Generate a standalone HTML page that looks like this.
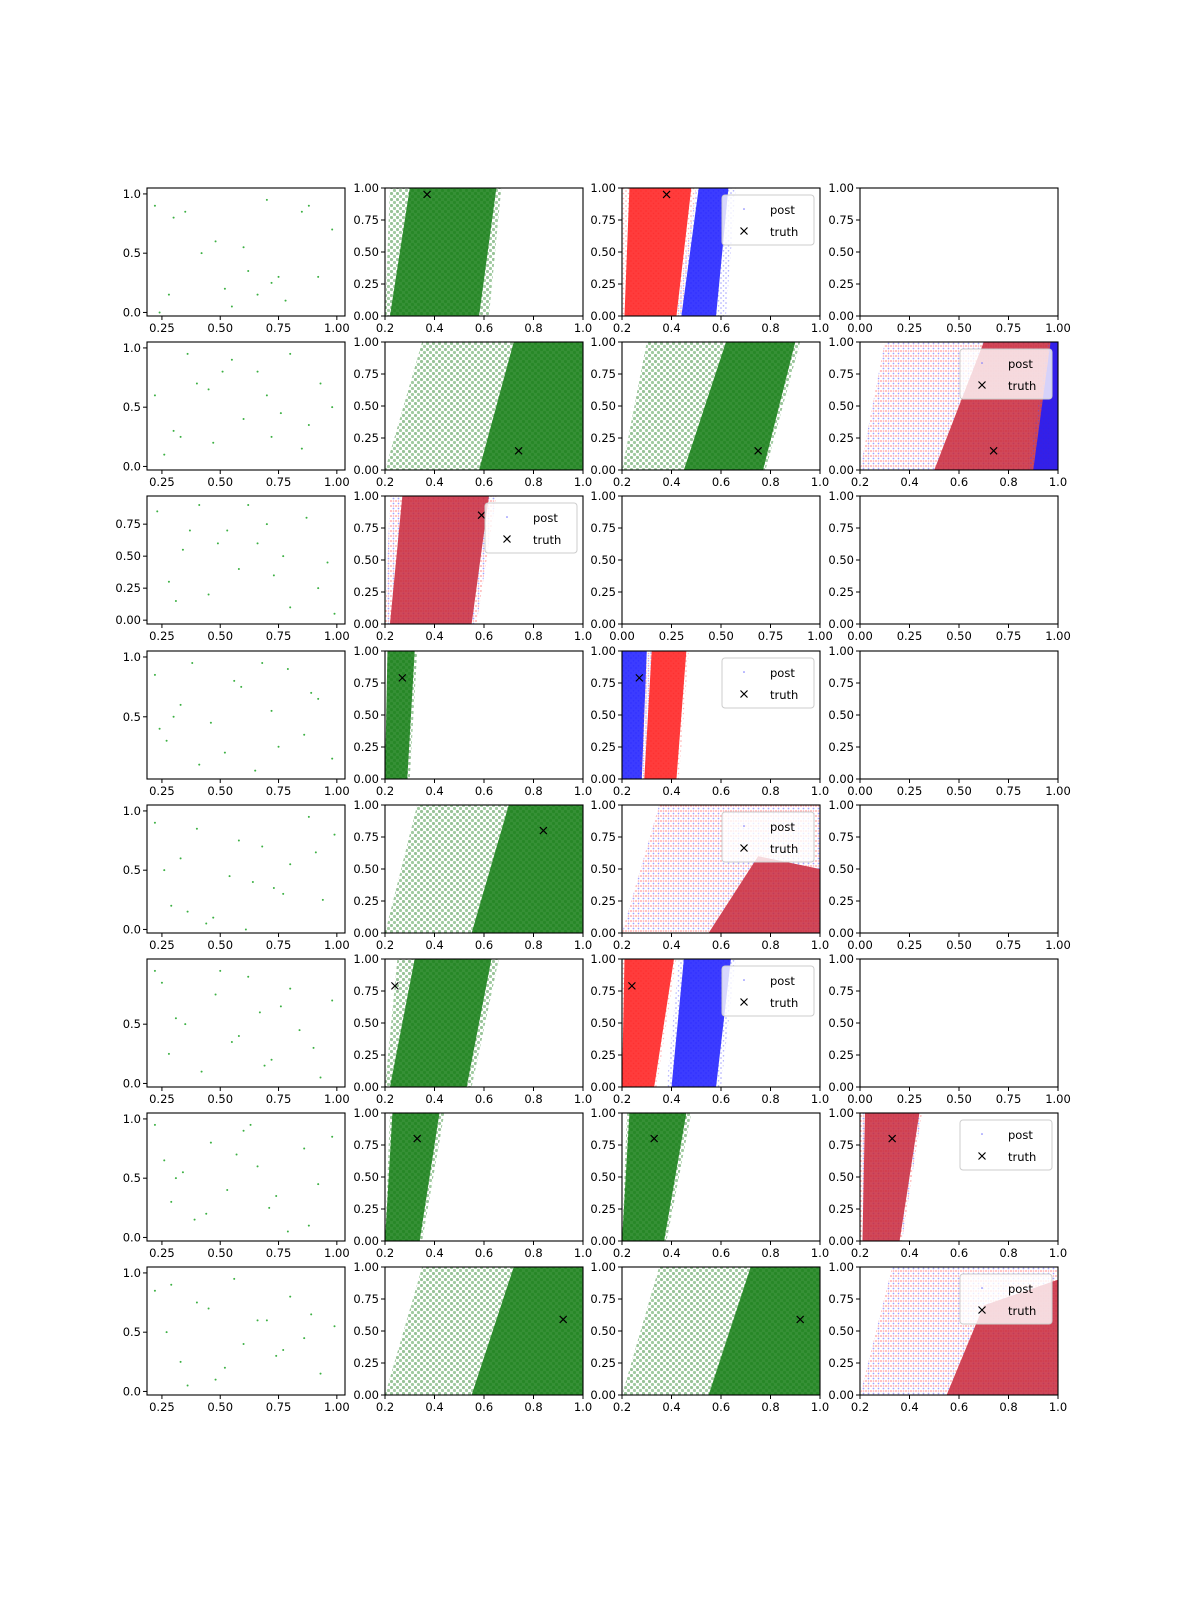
<!DOCTYPE html>
<html><head><meta charset="utf-8">
<style>
html,body{margin:0;padding:0;background:#fff;}
svg{display:block;}
text{font-family:"DejaVu Sans","Liberation Sans",sans-serif;font-size:11.5px;fill:#000;}
</style></head>
<body>
<svg id="fig" width="1200" height="1600" viewBox="0 0 1200 1600" xmlns="http://www.w3.org/2000/svg">
<defs>
<pattern id="pg" width="6" height="6" patternUnits="userSpaceOnUse"><circle cx="1.5" cy="1.5" r="1.6" fill="#1a7a1a"/><circle cx="4.5" cy="4.5" r="1.6" fill="#2e8b2e"/></pattern>
<pattern id="pr" width="5" height="5" patternUnits="userSpaceOnUse"><circle cx="1" cy="1" r="0.8" fill="#ff3030"/><circle cx="3.5" cy="3.5" r="0.8" fill="#ff5050"/></pattern>
<pattern id="pb" width="5" height="5" patternUnits="userSpaceOnUse"><circle cx="1" cy="3" r="0.8" fill="#3030ff"/><circle cx="3.5" cy="0.8" r="0.8" fill="#5050ff"/></pattern>
<pattern id="pm" width="5" height="5" patternUnits="userSpaceOnUse"><circle cx="1" cy="1" r="0.9" fill="#ff2020"/><circle cx="3.5" cy="3.5" r="0.9" fill="#3030ff"/><circle cx="3.5" cy="1" r="0.8" fill="#ff4040"/></pattern>
</defs>
</svg>
<script>
const colX=[147,385,622,860], rowY=[188,342,496,651,805,959,1113,1267], PW=198, PH=128;
// column 0 sparse prior samples (x,y)
const sparseX=[
[0.22,0.28,0.35,0.42,0.48,0.55,0.62,0.70,0.72,0.78,0.85,0.92,0.98,0.30,0.52,0.66,0.75,0.88,0.24,0.60],
[0.22,0.30,0.36,0.40,0.47,0.55,0.60,0.66,0.72,0.80,0.85,0.93,0.98,0.33,0.51,0.70,0.88,0.26,0.45,0.76],
[0.23,0.28,0.34,0.41,0.45,0.53,0.58,0.66,0.73,0.80,0.87,0.96,0.99,0.31,0.49,0.62,0.77,0.92,0.37,0.70],
[0.22,0.27,0.33,0.38,0.46,0.52,0.59,0.65,0.72,0.79,0.86,0.92,0.98,0.30,0.41,0.56,0.75,0.89,0.24,0.68],
[0.22,0.29,0.33,0.40,0.47,0.54,0.61,0.68,0.73,0.80,0.88,0.94,0.99,0.26,0.44,0.58,0.77,0.91,0.36,0.64],
[0.22,0.28,0.35,0.42,0.48,0.55,0.62,0.67,0.72,0.80,0.84,0.93,0.98,0.31,0.50,0.69,0.76,0.90,0.25,0.58],
[0.22,0.29,0.34,0.39,0.46,0.53,0.60,0.66,0.71,0.79,0.86,0.92,0.98,0.31,0.44,0.57,0.74,0.88,0.26,0.63],
[0.22,0.27,0.33,0.40,0.48,0.56,0.60,0.66,0.74,0.80,0.86,0.93,0.99,0.29,0.45,0.52,0.77,0.89,0.36,0.70]];
const sparseY=[
[0.9,0.15,0.85,0.5,0.6,0.05,0.35,0.95,0.25,0.1,0.85,0.3,0.7,0.8,0.2,0.15,0.3,0.9,0.0,0.55],
[0.6,0.3,0.95,0.7,0.2,0.9,0.4,0.8,0.25,0.95,0.15,0.7,0.5,0.25,0.8,0.6,0.35,0.1,0.65,0.45],
[0.85,0.3,0.55,0.9,0.2,0.7,0.4,0.6,0.35,0.1,0.8,0.45,0.05,0.15,0.6,0.9,0.5,0.25,0.7,0.75],
[0.85,0.3,0.6,0.95,0.45,0.2,0.75,0.05,0.55,0.9,0.35,0.65,0.15,0.5,0.1,0.8,0.25,0.7,0.4,0.95],
[0.9,0.2,0.6,0.85,0.1,0.45,0.0,0.7,0.35,0.55,0.95,0.25,0.8,0.5,0.05,0.75,0.3,0.65,0.15,0.4],
[0.95,0.25,0.5,0.1,0.75,0.35,0.9,0.6,0.2,0.8,0.45,0.05,0.7,0.55,0.95,0.15,0.65,0.3,0.85,0.4],
[0.95,0.3,0.55,0.15,0.8,0.4,0.9,0.6,0.25,0.05,0.75,0.45,0.85,0.5,0.2,0.7,0.35,0.1,0.65,0.95],
[0.85,0.5,0.25,0.75,0.1,0.95,0.4,0.6,0.3,0.8,0.45,0.15,0.55,0.9,0.7,0.2,0.35,0.65,0.05,0.6]];
const col0YTicks=[[0,0.5,1],[0,0.5,1],[0,0.25,0.5,0.75],[0.5,1],[0,0.5,1],[0,0.5],[0,0.5,1],[0,0.5,1]];
const col0YLabels=[["0.0","0.5","1.0"],["0.0","0.5","1.0"],["0.00","0.25","0.50","0.75"],["0.5","1.0"],["0.0","0.5","1.0"],["0.0","0.5"],["0.0","0.5","1.0"],["0.0","0.5","1.0"]];
const col0XLabels=["0.25","0.50","0.75","1.00"];
const postXTicks=[0.2,0.4,0.6,0.8,1.0], postXLabels=["0.2","0.4","0.6","0.8","1.0"];
const unitTicks=[0,0.25,0.5,0.75,1.0], unitLabels=["0.00","0.25","0.50","0.75","1.00"];
// posterior clouds: [row, col, fill, halo polygon, dense polygon]
const clouds=[
[0,1,"g",[[0.2,0],[0.62,0],[0.67,1],[0.22,1]],[[0.22,0],[0.58,0],[0.65,1],[0.3,1]]],
[0,2,"r",[[0.2,0],[0.44,0],[0.5,1],[0.2,1]],[[0.21,0],[0.42,0],[0.48,1],[0.23,1]]],
[0,2,"b",[[0.42,0],[0.62,0],[0.66,1],[0.5,1]],[[0.44,0],[0.58,0],[0.63,1],[0.51,1]]],
[1,1,"g",[[0.2,0],[1,0],[1,1],[0.35,1]],[[0.58,0],[1,0],[1,1],[0.72,1]]],
[1,2,"g",[[0.2,0],[0.78,0],[0.92,1],[0.3,1]],[[0.45,0],[0.77,0],[0.9,1],[0.62,1]]],
[1,3,"m",[[0.2,0],[1,0],[1,1],[0.3,1]],[[0.5,0],[1,0],[1,1],[0.7,1]]],
[1,3,"b",[[0.88,0],[1,0],[1,1],[0.96,1]],[[0.9,0],[1,0],[1,1],[0.97,1]]],
[2,1,"m",[[0.2,0],[0.57,0],[0.65,1],[0.22,1]],[[0.22,0],[0.55,0],[0.62,1],[0.27,1]]],
[3,1,"g",[[0.2,0],[0.3,0],[0.33,1],[0.21,1]],[[0.2,0],[0.29,0],[0.32,1],[0.21,1]]],
[3,2,"b",[[0.2,0],[0.3,0],[0.32,1],[0.2,1]],[[0.2,0],[0.28,0],[0.3,1],[0.2,1]]],
[3,2,"r",[[0.27,0],[0.43,0],[0.47,1],[0.3,1]],[[0.29,0],[0.42,0],[0.46,1],[0.32,1]]],
[4,1,"g",[[0.2,0],[1,0],[1,1],[0.33,1]],[[0.55,0],[1,0],[1,1],[0.7,1]]],
[4,2,"m",[[0.2,0],[1,0],[1,1],[0.35,1]],[[0.55,0],[1,0],[1,0.5],[0.75,0.6]]],
[5,1,"g",[[0.2,0],[0.55,0],[0.66,1],[0.25,1]],[[0.22,0],[0.53,0],[0.63,1],[0.32,1]]],
[5,2,"r",[[0.2,0],[0.34,0],[0.42,1],[0.2,1]],[[0.2,0],[0.33,0],[0.41,1],[0.21,1]]],
[5,2,"b",[[0.38,0],[0.6,0],[0.66,1],[0.43,1]],[[0.4,0],[0.58,0],[0.64,1],[0.45,1]]],
[6,1,"g",[[0.2,0],[0.35,0],[0.44,1],[0.22,1]],[[0.2,0],[0.34,0],[0.42,1],[0.23,1]]],
[6,2,"g",[[0.2,0],[0.38,0],[0.48,1],[0.22,1]],[[0.2,0],[0.37,0],[0.46,1],[0.23,1]]],
[6,3,"m",[[0.2,0],[0.37,0],[0.45,1],[0.2,1]],[[0.21,0],[0.36,0],[0.44,1],[0.22,1]]],
[7,1,"g",[[0.2,0],[1,0],[1,1],[0.35,1]],[[0.55,0],[1,0],[1,1],[0.72,1]]],
[7,2,"g",[[0.2,0],[1,0],[1,1],[0.35,1]],[[0.55,0],[1,0],[1,1],[0.72,1]]],
[7,3,"m",[[0.2,0],[1,0],[1,1],[0.33,1]],[[0.55,0],[1,0],[1,0.9],[0.7,0.7]]]];
// truth markers: [row, col, x, y]
const truths=[[0,1,0.37,0.95],[0,2,0.38,0.95],[1,1,0.74,0.15],[1,2,0.75,0.15],[1,3,0.74,0.15],[2,1,0.59,0.85],
[3,1,0.27,0.79],[3,2,0.27,0.79],[4,1,0.84,0.8],[5,1,0.24,0.79],[5,2,0.24,0.79],[6,1,0.33,0.8],[6,2,0.33,0.8],[6,3,0.33,0.8],[7,1,0.92,0.59],[7,2,0.92,0.59]];
const legends=[[0,2],[1,3],[2,1],[3,2],[4,2],[5,2],[6,3],[7,3]];
const types=[["s","p","p","u"],["s","p","p","p"],["s","p","u","u"],["s","p","p","u"],["s","p","p","u"],["s","p","p","u"],["s","p","p","p"],["s","p","p","p"]];

const svg=document.getElementById('fig');
const NS="http://www.w3.org/2000/svg";
function mk(tag,attrs,parent){const e=document.createElementNS(NS,tag);for(const k in attrs)e.setAttribute(k,attrs[k]);(parent||svg).appendChild(e);return e;}
function lim(r,c){const t=types[r][c];
 if(t==="s"){const ymax=(r===2)?0.97:1.05;return {x0:0.186,x1:1.035,y0:(r===3?-0.02:-0.03),y1:ymax};}
 if(t==="p")return {x0:0.2,x1:1.0,y0:0,y1:1};return {x0:0,x1:1,y0:0,y1:1};}
function sx(r,c,v){const L=lim(r,c);return colX[c]+(v-L.x0)/(L.x1-L.x0)*PW;}
function sy(r,c,v){const L=lim(r,c);return rowY[r]+PH-(v-L.y0)/(L.y1-L.y0)*PH;}
const fills={g:["url(#pg)","#137d13"],r:["url(#pr)","#ff1a1a"],b:["url(#pb)","#1a1aff"],m:["url(#pm)","#c8283c"]};
const groups={};
for(let r=0;r<8;r++)for(let c=0;c<4;c++){
 const g=mk('g',{});
 
 
 const cp=mk('clipPath',{id:'cp'+r+c},g);mk('rect',{x:colX[c],y:rowY[r],width:PW,height:PH},cp);
 const plot=mk('g',{'clip-path':'url(#cp'+r+c+')'},g);
 groups[r+'_'+c]={g,plot};
}
clouds.forEach(cl=>{const [r,c,f,halo,dense]=cl;const P=groups[r+'_'+c].plot;
 const h=mk('polygon',{points:halo.map(p=>sx(r,c,p[0])+','+sy(r,c,p[1])).join(' '),fill:fills[f][0],opacity:0.45},P);
 
 const d=mk('polygon',{points:dense.map(p=>sx(r,c,p[0])+','+sy(r,c,p[1])).join(' '),fill:fills[f][1],opacity:0.85},P);
 
});
for(let r=0;r<8;r++){const P=groups[r+'_0'].plot;
 sparseX[r].forEach((x,i)=>{const e=mk('circle',{cx:sx(r,0,x),cy:sy(r,0,sparseY[r][i]),r:1,fill:'#3cb043'},P);
 });}
truths.forEach(t=>{const [r,c,x,y]=t;const P=groups[r+'_'+c].plot;const X=sx(r,c,x),Y=sy(r,c,y);
 const e=mk('path',{d:`M${X-3.5},${Y-3.5}L${X+3.5},${Y+3.5}M${X-3.5},${Y+3.5}L${X+3.5},${Y-3.5}`,stroke:'#000','stroke-width':1.2},P);
 });
for(let r=0;r<8;r++)for(let c=0;c<4;c++){const G=groups[r+'_'+c].g;const t=types[r][c];
 const fr=mk('rect',{x:colX[c],y:rowY[r],width:PW,height:PH,fill:'none',stroke:'#000','stroke-width':1.1},G);
 
 let xt,xl,yt,yl;
 if(t==="s"){xt=[0.25,0.5,0.75,1.0];xl=col0XLabels;yt=col0YTicks[r];yl=col0YLabels[r];}
 else if(t==="p"){xt=postXTicks;xl=postXLabels;yt=unitTicks;yl=unitLabels;}
 else{xt=unitTicks;xl=unitLabels;yt=unitTicks;yl=unitLabels;}
 const yb=rowY[r]+PH;
 xt.forEach((v,i)=>{const X=sx(r,c,v);mk('line',{x1:X,x2:X,y1:yb,y2:yb+4,stroke:'#000'},G);
  const tx=mk('text',{x:X,y:yb+16,'text-anchor':'middle'},G);tx.textContent=xl[i];
  });
 yt.forEach((v,i)=>{const Y=sy(r,c,v);mk('line',{x1:colX[c],x2:colX[c]-4,y1:Y,y2:Y,stroke:'#000'},G);
  const tx=mk('text',{x:colX[c]-6,y:Y+4,'text-anchor':'end'},G);tx.textContent=yl[i];
  });
}
legends.forEach(l=>{const [r,c]=l;const G=groups[r+'_'+c].g;
 const lx=colX[c]+PW-98,ly=rowY[r]+7;
 const lg=mk('g',{},G);
 
 mk('rect',{x:lx,y:ly,width:92,height:50,rx:3,fill:'#fff','fill-opacity':0.8,stroke:'#ccc'},lg);
 mk('circle',{cx:lx+22,cy:ly+14,r:0.8,fill:'#7070ff'},lg);
 const t1=mk('text',{x:lx+48,y:ly+19},lg);t1.textContent='post';
 
 const X=lx+22,Y=ly+36;
 mk('path',{d:`M${X-3.5},${Y-3.5}L${X+3.5},${Y+3.5}M${X-3.5},${Y+3.5}L${X+3.5},${Y-3.5}`,stroke:'#000','stroke-width':1.2},lg);
 const t2=mk('text',{x:lx+48,y:ly+41},lg);t2.textContent='truth';
 
});
</script>
</body></html>
